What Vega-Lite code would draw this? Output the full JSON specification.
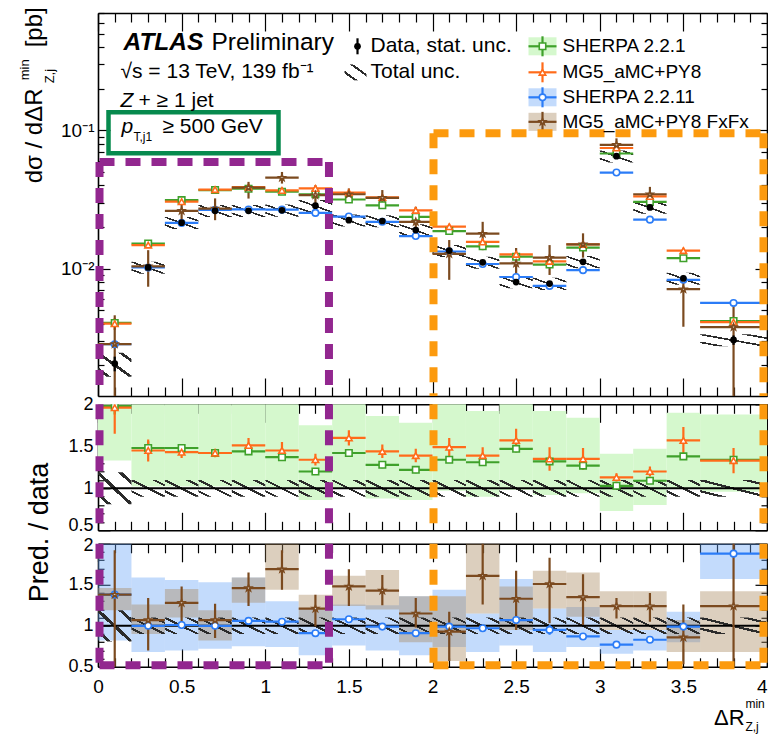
{
"$schema":"https://vega.github.io/schema/vega-lite/v6.json",
"background":"white",
"padding":{"left":18,"top":7,"right":0,"bottom":0},
"config":{"view":{"stroke":null},"font":"Liberation Sans","axis":{"grid":false,"tickColor":"black","tickWidth":1.2,"domainColor":"black","domainWidth":1.6,"labelFont":"Liberation Sans","labelFontSize":19,"labelColor":"black","zindex":1}},
"datasets":{
"axd":[{"a":1,"b":0.01,"r":1}],
"topunc":[
{"xl":0,"xh":0.2,"lo":0.00165,"hi":0.00247},{"xl":0.2,"xh":0.4,"lo":0.00918,"hi":0.01122},{"xl":0.4,"xh":0.6,"lo":0.01935,"hi":0.02365},{"xl":0.6,"xh":0.8,"lo":0.02358,"hi":0.02882},{"xl":0.8,"xh":1.0,"lo":0.02358,"hi":0.02882},{"xl":1.0,"xh":1.2,"lo":0.02376,"hi":0.02904},{"xl":1.2,"xh":1.4,"lo":0.02565,"hi":0.03135},{"xl":1.4,"xh":1.6,"lo":0.02016,"hi":0.02464},{"xl":1.6,"xh":1.8,"lo":0.01989,"hi":0.02431},{"xl":1.8,"xh":2.0,"lo":0.0171,"hi":0.0209},{"xl":2.0,"xh":2.2,"lo":0.01215,"hi":0.01485},{"xl":2.2,"xh":2.4,"lo":0.00999,"hi":0.01221},{"xl":2.4,"xh":2.6,"lo":0.0072,"hi":0.0088},{"xl":2.6,"xh":2.8,"lo":0.00702,"hi":0.00858},{"xl":2.8,"xh":3.0,"lo":0.01008,"hi":0.01232},{"xl":3.0,"xh":3.2,"lo":0.0585,"hi":0.0715},{"xl":3.2,"xh":3.4,"lo":0.02493,"hi":0.03047},{"xl":3.4,"xh":3.6,"lo":0.00765,"hi":0.00935},{"xl":3.6,"xh":4.0,"lo":0.002745,"hi":0.003355}],
"top":[
{"s":"S221","xl":0,"xh":0.2,"xc":0.1,"v":0.00405,"lo":0.00393,"hi":0.00417},
{"s":"S221","xl":0.2,"xh":0.4,"xc":0.3,"v":0.0152,"lo":0.01474,"hi":0.01566},
{"s":"S221","xl":0.4,"xh":0.6,"xc":0.5,"v":0.0313,"lo":0.03036,"hi":0.03224},
{"s":"S221","xl":0.6,"xh":0.8,"xc":0.7,"v":0.037,"lo":0.03589,"hi":0.03811},
{"s":"S221","xl":0.8,"xh":1.0,"xc":0.9,"v":0.0378,"lo":0.03667,"hi":0.03893},
{"s":"S221","xl":1.0,"xh":1.2,"xc":1.1,"v":0.036,"lo":0.03492,"hi":0.03708},
{"s":"S221","xl":1.2,"xh":1.4,"xc":1.3,"v":0.0345,"lo":0.03347,"hi":0.03554},
{"s":"S221","xl":1.4,"xh":1.6,"xc":1.5,"v":0.0316,"lo":0.03065,"hi":0.03255},
{"s":"S221","xl":1.6,"xh":1.8,"xc":1.7,"v":0.0287,"lo":0.02784,"hi":0.02956},
{"s":"S221","xl":1.8,"xh":2.0,"xc":1.9,"v":0.0237,"lo":0.02299,"hi":0.02441},
{"s":"S221","xl":2.0,"xh":2.2,"xc":2.1,"v":0.0187,"lo":0.01814,"hi":0.01926},
{"s":"S221","xl":2.2,"xh":2.4,"xc":2.3,"v":0.0145,"lo":0.01407,"hi":0.01494},
{"s":"S221","xl":2.4,"xh":2.6,"xc":2.5,"v":0.0122,"lo":0.01183,"hi":0.01257},
{"s":"S221","xl":2.6,"xh":2.8,"xc":2.7,"v":0.0107,"lo":0.01038,"hi":0.01102},
{"s":"S221","xl":2.8,"xh":3.0,"xc":2.9,"v":0.0142,"lo":0.01377,"hi":0.01463},
{"s":"S221","xl":3.0,"xh":3.2,"xc":3.1,"v":0.068,"lo":0.06596,"hi":0.07004},
{"s":"S221","xl":3.2,"xh":3.4,"xc":3.3,"v":0.0304,"lo":0.02949,"hi":0.03131},
{"s":"S221","xl":3.4,"xh":3.6,"xc":3.5,"v":0.0119,"lo":0.01154,"hi":0.01226},
{"s":"S221","xl":3.6,"xh":4.0,"xc":3.8,"v":0.00418,"lo":0.00405,"hi":0.00431},
{"s":"MG5","xl":0,"xh":0.2,"xc":0.1,"v":0.004,"lo":0.0036,"hi":0.0044},
{"s":"MG5","xl":0.2,"xh":0.4,"xc":0.3,"v":0.0148,"lo":0.01406,"hi":0.01554},
{"s":"MG5","xl":0.4,"xh":0.6,"xc":0.5,"v":0.0305,"lo":0.02898,"hi":0.03203},
{"s":"MG5","xl":0.6,"xh":0.8,"xc":0.7,"v":0.0373,"lo":0.03544,"hi":0.03917},
{"s":"MG5","xl":0.8,"xh":1.0,"xc":0.9,"v":0.0388,"lo":0.03686,"hi":0.04074},
{"s":"MG5","xl":1.0,"xh":1.2,"xc":1.1,"v":0.0368,"lo":0.03496,"hi":0.03864},
{"s":"MG5","xl":1.2,"xh":1.4,"xc":1.3,"v":0.038,"lo":0.0361,"hi":0.0399},
{"s":"MG5","xl":1.4,"xh":1.6,"xc":1.5,"v":0.0355,"lo":0.03373,"hi":0.03728},
{"s":"MG5","xl":1.6,"xh":1.8,"xc":1.7,"v":0.0327,"lo":0.03107,"hi":0.03434},
{"s":"MG5","xl":1.8,"xh":2.0,"xc":1.9,"v":0.0264,"lo":0.02508,"hi":0.02772},
{"s":"MG5","xl":2.0,"xh":2.2,"xc":2.1,"v":0.0201,"lo":0.0191,"hi":0.02111},
{"s":"MG5","xl":2.2,"xh":2.4,"xc":2.3,"v":0.0156,"lo":0.01482,"hi":0.01638},
{"s":"MG5","xl":2.4,"xh":2.6,"xc":2.5,"v":0.0127,"lo":0.01207,"hi":0.01334},
{"s":"MG5","xl":2.6,"xh":2.8,"xc":2.7,"v":0.0113,"lo":0.01074,"hi":0.01187},
{"s":"MG5","xl":2.8,"xh":3.0,"xc":2.9,"v":0.015,"lo":0.01425,"hi":0.01575},
{"s":"MG5","xl":3.0,"xh":3.2,"xc":3.1,"v":0.0745,"lo":0.07078,"hi":0.07823},
{"s":"MG5","xl":3.2,"xh":3.4,"xc":3.3,"v":0.0333,"lo":0.03164,"hi":0.03497},
{"s":"MG5","xl":3.4,"xh":3.6,"xc":3.5,"v":0.0135,"lo":0.01283,"hi":0.01418},
{"s":"MG5","xl":3.6,"xh":4.0,"xc":3.8,"v":0.0041,"lo":0.0039,"hi":0.00431},
{"s":"S2211","xl":0,"xh":0.2,"xc":0.1,"v":0.00284,"lo":0.00275,"hi":0.00293},
{"s":"S2211","xl":0.2,"xh":0.4,"xc":0.3,"v":0.0102,"lo":0.00989,"hi":0.01051},
{"s":"S2211","xl":0.4,"xh":0.6,"xc":0.5,"v":0.0214,"lo":0.02076,"hi":0.02204},
{"s":"S2211","xl":0.6,"xh":0.8,"xc":0.7,"v":0.0266,"lo":0.0258,"hi":0.0274},
{"s":"S2211","xl":0.8,"xh":1.0,"xc":0.9,"v":0.0268,"lo":0.026,"hi":0.0276},
{"s":"S2211","xl":1.0,"xh":1.2,"xc":1.1,"v":0.0267,"lo":0.0259,"hi":0.0275},
{"s":"S2211","xl":1.2,"xh":1.4,"xc":1.3,"v":0.0253,"lo":0.02454,"hi":0.02606},
{"s":"S2211","xl":1.4,"xh":1.6,"xc":1.5,"v":0.0238,"lo":0.02309,"hi":0.02451},
{"s":"S2211","xl":1.6,"xh":1.8,"xc":1.7,"v":0.0218,"lo":0.02115,"hi":0.02245},
{"s":"S2211","xl":1.8,"xh":2.0,"xc":1.9,"v":0.0172,"lo":0.01668,"hi":0.01772},
{"s":"S2211","xl":2.0,"xh":2.2,"xc":2.1,"v":0.0133,"lo":0.0129,"hi":0.0137},
{"s":"S2211","xl":2.2,"xh":2.4,"xc":2.3,"v":0.0108,"lo":0.01048,"hi":0.01112},
{"s":"S2211","xl":2.4,"xh":2.6,"xc":2.5,"v":0.0087,"lo":0.00844,"hi":0.00896},
{"s":"S2211","xl":2.6,"xh":2.8,"xc":2.7,"v":0.0075,"lo":0.00728,"hi":0.00773},
{"s":"S2211","xl":2.8,"xh":3.0,"xc":2.9,"v":0.00975,"lo":0.00946,"hi":0.01004},
{"s":"S2211","xl":3.0,"xh":3.2,"xc":3.1,"v":0.0495,"lo":0.04802,"hi":0.05099},
{"s":"S2211","xl":3.2,"xh":3.4,"xc":3.3,"v":0.0226,"lo":0.02192,"hi":0.02328},
{"s":"S2211","xl":3.4,"xh":3.6,"xc":3.5,"v":0.0083,"lo":0.00805,"hi":0.00855},
{"s":"S2211","xl":3.6,"xh":4.0,"xc":3.8,"v":0.00565,"lo":0.00548,"hi":0.00582},
{"s":"FxFx","xl":0,"xh":0.2,"xc":0.1,"v":0.00285,"lo":0.0008,"hi":0.0046},
{"s":"FxFx","xl":0.2,"xh":0.4,"xc":0.3,"v":0.0104,"lo":0.0074,"hi":0.0136},
{"s":"FxFx","xl":0.4,"xh":0.6,"xc":0.5,"v":0.0262,"lo":0.0224,"hi":0.033},
{"s":"FxFx","xl":0.6,"xh":0.8,"xc":0.7,"v":0.0272,"lo":0.0224,"hi":0.0322},
{"s":"FxFx","xl":0.8,"xh":1.0,"xc":0.9,"v":0.0385,"lo":0.0321,"hi":0.0424},
{"s":"FxFx","xl":1.0,"xh":1.2,"xc":1.1,"v":0.0455,"lo":0.0412,"hi":0.05},
{"s":"FxFx","xl":1.2,"xh":1.4,"xc":1.3,"v":0.034,"lo":0.0288,"hi":0.04},
{"s":"FxFx","xl":1.4,"xh":1.6,"xc":1.5,"v":0.0345,"lo":0.0304,"hi":0.038},
{"s":"FxFx","xl":1.6,"xh":1.8,"xc":1.7,"v":0.0325,"lo":0.0288,"hi":0.037},
{"s":"FxFx","xl":1.8,"xh":2.0,"xc":1.9,"v":0.0218,"lo":0.0174,"hi":0.028},
{"s":"FxFx","xl":2.0,"xh":2.2,"xc":2.1,"v":0.0128,"lo":0.0083,"hi":0.0161},
{"s":"FxFx","xl":2.2,"xh":2.4,"xc":2.3,"v":0.0179,"lo":0.0136,"hi":0.0218},
{"s":"FxFx","xl":2.4,"xh":2.6,"xc":2.5,"v":0.0109,"lo":0.008,"hi":0.0141},
{"s":"FxFx","xl":2.6,"xh":2.8,"xc":2.7,"v":0.012,"lo":0.009,"hi":0.0148},
{"s":"FxFx","xl":2.8,"xh":3.0,"xc":2.9,"v":0.015,"lo":0.012,"hi":0.018},
{"s":"FxFx","xl":3.0,"xh":3.2,"xc":3.1,"v":0.0785,"lo":0.066,"hi":0.0875},
{"s":"FxFx","xl":3.2,"xh":3.4,"xc":3.3,"v":0.0345,"lo":0.0296,"hi":0.039},
{"s":"FxFx","xl":3.4,"xh":3.6,"xc":3.5,"v":0.0071,"lo":0.0038,"hi":0.009},
{"s":"FxFx","xl":3.6,"xh":4.0,"xc":3.8,"v":0.00378,"lo":0.0008,"hi":0.0056},
{"s":"Data","xl":0,"xh":0.2,"xc":0.1,"v":0.00206,"lo":0.00181,"hi":0.00231},
{"s":"Data","xl":0.2,"xh":0.4,"xc":0.3,"v":0.0102,"lo":0.00979,"hi":0.01061},
{"s":"Data","xl":0.4,"xh":0.6,"xc":0.5,"v":0.0215,"lo":0.02064,"hi":0.02236},
{"s":"Data","xl":0.6,"xh":0.8,"xc":0.7,"v":0.0262,"lo":0.02515,"hi":0.02725},
{"s":"Data","xl":0.8,"xh":1.0,"xc":0.9,"v":0.0262,"lo":0.02515,"hi":0.02725},
{"s":"Data","xl":1.0,"xh":1.2,"xc":1.1,"v":0.0264,"lo":0.02534,"hi":0.02746},
{"s":"Data","xl":1.2,"xh":1.4,"xc":1.3,"v":0.0285,"lo":0.02736,"hi":0.02964},
{"s":"Data","xl":1.4,"xh":1.6,"xc":1.5,"v":0.0224,"lo":0.0215,"hi":0.0233},
{"s":"Data","xl":1.6,"xh":1.8,"xc":1.7,"v":0.0221,"lo":0.02122,"hi":0.02298},
{"s":"Data","xl":1.8,"xh":2.0,"xc":1.9,"v":0.019,"lo":0.01824,"hi":0.01976},
{"s":"Data","xl":2.0,"xh":2.2,"xc":2.1,"v":0.0135,"lo":0.01296,"hi":0.01404},
{"s":"Data","xl":2.2,"xh":2.4,"xc":2.3,"v":0.0111,"lo":0.01066,"hi":0.01154},
{"s":"Data","xl":2.4,"xh":2.6,"xc":2.5,"v":0.008,"lo":0.00768,"hi":0.00832},
{"s":"Data","xl":2.6,"xh":2.8,"xc":2.7,"v":0.0078,"lo":0.00749,"hi":0.00811},
{"s":"Data","xl":2.8,"xh":3.0,"xc":2.9,"v":0.0112,"lo":0.01075,"hi":0.01165},
{"s":"Data","xl":3.0,"xh":3.2,"xc":3.1,"v":0.065,"lo":0.0624,"hi":0.0676},
{"s":"Data","xl":3.2,"xh":3.4,"xc":3.3,"v":0.0277,"lo":0.02659,"hi":0.02881},
{"s":"Data","xl":3.4,"xh":3.6,"xc":3.5,"v":0.0085,"lo":0.00816,"hi":0.00884},
{"s":"Data","xl":3.6,"xh":4.0,"xc":3.8,"v":0.00305,"lo":0.00281,"hi":0.00329}],
"runc":[
{"xl":0,"xh":0.2,"lo":0.81,"hi":1.19},{"xl":0.2,"xh":0.4,"lo":0.9,"hi":1.1},{"xl":0.4,"xh":0.6,"lo":0.9,"hi":1.1},{"xl":0.6,"xh":0.8,"lo":0.9,"hi":1.1},{"xl":0.8,"xh":1.0,"lo":0.9,"hi":1.1},{"xl":1.0,"xh":1.2,"lo":0.9,"hi":1.1},{"xl":1.2,"xh":1.4,"lo":0.9,"hi":1.1},{"xl":1.4,"xh":1.6,"lo":0.9,"hi":1.1},{"xl":1.6,"xh":1.8,"lo":0.9,"hi":1.1},{"xl":1.8,"xh":2.0,"lo":0.9,"hi":1.1},{"xl":2.0,"xh":2.2,"lo":0.9,"hi":1.1},{"xl":2.2,"xh":2.4,"lo":0.9,"hi":1.1},{"xl":2.4,"xh":2.6,"lo":0.9,"hi":1.1},{"xl":2.6,"xh":2.8,"lo":0.9,"hi":1.1},{"xl":2.8,"xh":3.0,"lo":0.9,"hi":1.1},{"xl":3.0,"xh":3.2,"lo":0.9,"hi":1.1},{"xl":3.2,"xh":3.4,"lo":0.9,"hi":1.1},{"xl":3.4,"xh":3.6,"lo":0.9,"hi":1.1},{"xl":3.6,"xh":4.0,"lo":0.9,"hi":1.1}],
"gband":[
{"xl":0,"xh":0.2,"lo":1.33,"hi":2.2},{"xl":0.2,"xh":0.4,"lo":1.02,"hi":2.2},{"xl":0.4,"xh":0.6,"lo":1.02,"hi":2.2},{"xl":0.6,"xh":0.8,"lo":1.02,"hi":2.2},{"xl":0.8,"xh":1.0,"lo":1.02,"hi":2.2},{"xl":1.0,"xh":1.2,"lo":1.0,"hi":2.2},{"xl":1.2,"xh":1.4,"lo":0.86,"hi":1.75},{"xl":1.4,"xh":1.6,"lo":1.0,"hi":2.2},{"xl":1.6,"xh":1.8,"lo":0.88,"hi":1.86},{"xl":1.8,"xh":2.0,"lo":0.86,"hi":1.78},{"xl":2.0,"xh":2.2,"lo":0.97,"hi":2.2},{"xl":2.2,"xh":2.4,"lo":0.9,"hi":1.92},{"xl":2.4,"xh":2.6,"lo":0.98,"hi":2.2},{"xl":2.6,"xh":2.8,"lo":0.92,"hi":1.92},{"xl":2.8,"xh":3.0,"lo":0.94,"hi":1.84},{"xl":3.0,"xh":3.2,"lo":0.73,"hi":1.41},{"xl":3.2,"xh":3.4,"lo":0.8,"hi":1.47},{"xl":3.4,"xh":3.6,"lo":1.0,"hi":1.9},{"xl":3.6,"xh":4.0,"lo":0.96,"hi":1.88}],
"mid":[
{"s":"S221","xl":0,"xh":0.2,"xc":0.1,"r":1.98,"lo":1.88,"hi":2.08},
{"s":"S221","xl":0.2,"xh":0.4,"xc":0.3,"r":1.48,"lo":1.4,"hi":1.56},
{"s":"S221","xl":0.4,"xh":0.6,"xc":0.5,"r":1.48,"lo":1.44,"hi":1.52},
{"s":"S221","xl":0.6,"xh":0.8,"xc":0.7,"r":1.42,"lo":1.38,"hi":1.46},
{"s":"S221","xl":0.8,"xh":1.0,"xc":0.9,"r":1.44,"lo":1.4,"hi":1.48},
{"s":"S221","xl":1.0,"xh":1.2,"xc":1.1,"r":1.37,"lo":1.33,"hi":1.41},
{"s":"S221","xl":1.2,"xh":1.4,"xc":1.3,"r":1.2,"lo":1.16,"hi":1.24},
{"s":"S221","xl":1.4,"xh":1.6,"xc":1.5,"r":1.42,"lo":1.38,"hi":1.46},
{"s":"S221","xl":1.6,"xh":1.8,"xc":1.7,"r":1.28,"lo":1.24,"hi":1.32},
{"s":"S221","xl":1.8,"xh":2.0,"xc":1.9,"r":1.22,"lo":1.18,"hi":1.26},
{"s":"S221","xl":2.0,"xh":2.2,"xc":2.1,"r":1.34,"lo":1.3,"hi":1.38},
{"s":"S221","xl":2.2,"xh":2.4,"xc":2.3,"r":1.31,"lo":1.27,"hi":1.35},
{"s":"S221","xl":2.4,"xh":2.6,"xc":2.5,"r":1.47,"lo":1.43,"hi":1.51},
{"s":"S221","xl":2.6,"xh":2.8,"xc":2.7,"r":1.32,"lo":1.28,"hi":1.36},
{"s":"S221","xl":2.8,"xh":3.0,"xc":2.9,"r":1.27,"lo":1.23,"hi":1.31},
{"s":"S221","xl":3.0,"xh":3.2,"xc":3.1,"r":1.03,"lo":0.99,"hi":1.07},
{"s":"S221","xl":3.2,"xh":3.4,"xc":3.3,"r":1.09,"lo":1.05,"hi":1.13},
{"s":"S221","xl":3.4,"xh":3.6,"xc":3.5,"r":1.38,"lo":1.34,"hi":1.42},
{"s":"S221","xl":3.6,"xh":4.0,"xc":3.8,"r":1.34,"lo":1.3,"hi":1.38},
{"s":"MG5","xl":0,"xh":0.2,"xc":0.1,"r":1.96,"lo":1.65,"hi":2.3},
{"s":"MG5","xl":0.2,"xh":0.4,"xc":0.3,"r":1.45,"lo":1.32,"hi":1.58},
{"s":"MG5","xl":0.4,"xh":0.6,"xc":0.5,"r":1.43,"lo":1.36,"hi":1.5},
{"s":"MG5","xl":0.6,"xh":0.8,"xc":0.7,"r":1.42,"lo":1.37,"hi":1.47},
{"s":"MG5","xl":0.8,"xh":1.0,"xc":0.9,"r":1.51,"lo":1.42,"hi":1.6},
{"s":"MG5","xl":1.0,"xh":1.2,"xc":1.1,"r":1.45,"lo":1.35,"hi":1.55},
{"s":"MG5","xl":1.2,"xh":1.4,"xc":1.3,"r":1.34,"lo":1.27,"hi":1.41},
{"s":"MG5","xl":1.4,"xh":1.6,"xc":1.5,"r":1.6,"lo":1.51,"hi":1.69},
{"s":"MG5","xl":1.6,"xh":1.8,"xc":1.7,"r":1.44,"lo":1.36,"hi":1.52},
{"s":"MG5","xl":1.8,"xh":2.0,"xc":1.9,"r":1.39,"lo":1.31,"hi":1.47},
{"s":"MG5","xl":2.0,"xh":2.2,"xc":2.1,"r":1.49,"lo":1.38,"hi":1.6},
{"s":"MG5","xl":2.2,"xh":2.4,"xc":2.3,"r":1.39,"lo":1.29,"hi":1.49},
{"s":"MG5","xl":2.4,"xh":2.6,"xc":2.5,"r":1.57,"lo":1.43,"hi":1.71},
{"s":"MG5","xl":2.6,"xh":2.8,"xc":2.7,"r":1.35,"lo":1.21,"hi":1.49},
{"s":"MG5","xl":2.8,"xh":3.0,"xc":2.9,"r":1.35,"lo":1.22,"hi":1.48},
{"s":"MG5","xl":3.0,"xh":3.2,"xc":3.1,"r":1.13,"lo":1.08,"hi":1.18},
{"s":"MG5","xl":3.2,"xh":3.4,"xc":3.3,"r":1.2,"lo":1.14,"hi":1.26},
{"s":"MG5","xl":3.4,"xh":3.6,"xc":3.5,"r":1.57,"lo":1.41,"hi":1.73},
{"s":"MG5","xl":3.6,"xh":4.0,"xc":3.8,"r":1.33,"lo":1.18,"hi":1.48}],
"bband":[
{"s":"S2211","xl":0,"xh":0.2,"lo":0.82,"hi":2.2},{"s":"S2211","xl":0.2,"xh":0.4,"lo":0.68,"hi":1.59},{"s":"S2211","xl":0.4,"xh":0.6,"lo":0.7,"hi":1.56},{"s":"S2211","xl":0.6,"xh":0.8,"lo":0.72,"hi":1.53},{"s":"S2211","xl":0.8,"xh":1.0,"lo":0.75,"hi":1.59},{"s":"S2211","xl":1.0,"xh":1.2,"lo":0.74,"hi":1.3},{"s":"S2211","xl":1.2,"xh":1.4,"lo":0.64,"hi":1.21},{"s":"S2211","xl":1.4,"xh":1.6,"lo":0.76,"hi":1.26},{"s":"S2211","xl":1.6,"xh":1.8,"lo":0.7,"hi":1.25},{"s":"S2211","xl":1.8,"xh":2.0,"lo":0.64,"hi":1.36},{"s":"S2211","xl":2.0,"xh":2.2,"lo":0.74,"hi":1.44},{"s":"S2211","xl":2.2,"xh":2.4,"lo":0.68,"hi":1.15},{"s":"S2211","xl":2.4,"xh":2.6,"lo":0.76,"hi":1.57},{"s":"S2211","xl":2.6,"xh":2.8,"lo":0.68,"hi":1.21},{"s":"S2211","xl":2.8,"xh":3.0,"lo":0.74,"hi":1.23},{"s":"S2211","xl":3.0,"xh":3.2,"lo":0.66,"hi":0.95},{"s":"S2211","xl":3.2,"xh":3.4,"lo":0.7,"hi":0.95},{"s":"S2211","xl":3.4,"xh":3.6,"lo":0.8,"hi":1.17},{"s":"S2211","xl":3.6,"xh":4.0,"lo":1.57,"hi":2.2},
{"s":"FxFx","xl":0,"xh":0.2,"lo":1.19,"hi":1.46},{"s":"FxFx","xl":0.2,"xh":0.4,"lo":0.9,"hi":1.26},{"s":"FxFx","xl":0.4,"xh":0.6,"lo":1.1,"hi":1.45},{"s":"FxFx","xl":0.6,"xh":0.8,"lo":0.82,"hi":1.19},{"s":"FxFx","xl":0.8,"xh":1.0,"lo":1.28,"hi":1.59},{"s":"FxFx","xl":1.0,"xh":1.2,"lo":1.44,"hi":2.2},{"s":"FxFx","xl":1.2,"xh":1.4,"lo":1.0,"hi":1.38},{"s":"FxFx","xl":1.4,"xh":1.6,"lo":1.24,"hi":1.61},{"s":"FxFx","xl":1.6,"xh":1.8,"lo":1.2,"hi":1.68},{"s":"FxFx","xl":1.8,"xh":2.0,"lo":0.8,"hi":1.36},{"s":"FxFx","xl":2.0,"xh":2.2,"lo":0.57,"hi":1.36},{"s":"FxFx","xl":2.2,"xh":2.4,"lo":1.15,"hi":2.2},{"s":"FxFx","xl":2.4,"xh":2.6,"lo":0.95,"hi":1.48},{"s":"FxFx","xl":2.6,"xh":2.8,"lo":1.21,"hi":1.67},{"s":"FxFx","xl":2.8,"xh":3.0,"lo":1.11,"hi":1.65},{"s":"FxFx","xl":3.0,"xh":3.2,"lo":0.95,"hi":1.42},{"s":"FxFx","xl":3.2,"xh":3.4,"lo":0.95,"hi":1.42},{"s":"FxFx","xl":3.4,"xh":3.6,"lo":0.68,"hi":1.07},{"s":"FxFx","xl":3.6,"xh":4.0,"lo":0.68,"hi":1.42}],
"bot":[
{"s":"S2211","xl":0,"xh":0.2,"xc":0.1,"r":1.38,"lo":1.34,"hi":1.42},
{"s":"S2211","xl":0.2,"xh":0.4,"xc":0.3,"r":1.0,"lo":0.96,"hi":1.04},
{"s":"S2211","xl":0.4,"xh":0.6,"xc":0.5,"r":1.01,"lo":0.97,"hi":1.05},
{"s":"S2211","xl":0.6,"xh":0.8,"xc":0.7,"r":1.0,"lo":0.96,"hi":1.04},
{"s":"S2211","xl":0.8,"xh":1.0,"xc":0.9,"r":1.06,"lo":1.02,"hi":1.1},
{"s":"S2211","xl":1.0,"xh":1.2,"xc":1.1,"r":1.05,"lo":1.01,"hi":1.09},
{"s":"S2211","xl":1.2,"xh":1.4,"xc":1.3,"r":0.91,"lo":0.87,"hi":0.95},
{"s":"S2211","xl":1.4,"xh":1.6,"xc":1.5,"r":1.08,"lo":1.04,"hi":1.12},
{"s":"S2211","xl":1.6,"xh":1.8,"xc":1.7,"r":0.99,"lo":0.95,"hi":1.03},
{"s":"S2211","xl":1.8,"xh":2.0,"xc":1.9,"r":0.91,"lo":0.87,"hi":0.95},
{"s":"S2211","xl":2.0,"xh":2.2,"xc":2.1,"r":0.99,"lo":0.95,"hi":1.03},
{"s":"S2211","xl":2.2,"xh":2.4,"xc":2.3,"r":0.97,"lo":0.93,"hi":1.01},
{"s":"S2211","xl":2.4,"xh":2.6,"xc":2.5,"r":1.07,"lo":1.03,"hi":1.11},
{"s":"S2211","xl":2.6,"xh":2.8,"xc":2.7,"r":0.95,"lo":0.89,"hi":1.01},
{"s":"S2211","xl":2.8,"xh":3.0,"xc":2.9,"r":0.87,"lo":0.83,"hi":0.91},
{"s":"S2211","xl":3.0,"xh":3.2,"xc":3.1,"r":0.77,"lo":0.74,"hi":0.8},
{"s":"S2211","xl":3.2,"xh":3.4,"xc":3.3,"r":0.83,"lo":0.8,"hi":0.86},
{"s":"S2211","xl":3.4,"xh":3.6,"xc":3.5,"r":0.99,"lo":0.95,"hi":1.03},
{"s":"S2211","xl":3.6,"xh":4.0,"xc":3.8,"r":1.88,"lo":1.84,"hi":1.92},
{"s":"FxFx","xl":0,"xh":0.2,"xc":0.1,"r":1.38,"lo":0.3,"hi":1.92},
{"s":"FxFx","xl":0.2,"xh":0.4,"xc":0.3,"r":1.07,"lo":0.7,"hi":1.34},
{"s":"FxFx","xl":0.4,"xh":0.6,"xc":0.5,"r":1.28,"lo":1.04,"hi":1.48},
{"s":"FxFx","xl":0.6,"xh":0.8,"xc":0.7,"r":1.07,"lo":0.85,"hi":1.27},
{"s":"FxFx","xl":0.8,"xh":1.0,"xc":0.9,"r":1.46,"lo":1.24,"hi":1.65},
{"s":"FxFx","xl":1.0,"xh":1.2,"xc":1.1,"r":1.69,"lo":1.44,"hi":1.92},
{"s":"FxFx","xl":1.2,"xh":1.4,"xc":1.3,"r":1.21,"lo":0.99,"hi":1.38},
{"s":"FxFx","xl":1.4,"xh":1.6,"xc":1.5,"r":1.48,"lo":1.24,"hi":1.69},
{"s":"FxFx","xl":1.6,"xh":1.8,"xc":1.7,"r":1.43,"lo":1.25,"hi":1.62},
{"s":"FxFx","xl":1.8,"xh":2.0,"xc":1.9,"r":1.15,"lo":0.98,"hi":1.34},
{"s":"FxFx","xl":2.0,"xh":2.2,"xc":2.1,"r":0.93,"lo":0.57,"hi":1.17},
{"s":"FxFx","xl":2.2,"xh":2.4,"xc":2.3,"r":1.61,"lo":1.26,"hi":2.1},
{"s":"FxFx","xl":2.4,"xh":2.6,"xc":2.5,"r":1.33,"lo":0.95,"hi":1.67},
{"s":"FxFx","xl":2.6,"xh":2.8,"xc":2.7,"r":1.51,"lo":1.03,"hi":1.83},
{"s":"FxFx","xl":2.8,"xh":3.0,"xc":2.9,"r":1.35,"lo":1.01,"hi":1.63},
{"s":"FxFx","xl":3.0,"xh":3.2,"xc":3.1,"r":1.24,"lo":1.09,"hi":1.34},
{"s":"FxFx","xl":3.2,"xh":3.4,"xc":3.3,"r":1.24,"lo":1.05,"hi":1.4},
{"s":"FxFx","xl":3.4,"xh":3.6,"xc":3.5,"r":0.86,"lo":0.53,"hi":1.26},
{"s":"FxFx","xl":3.6,"xh":4.0,"xc":3.8,"r":1.24,"lo":0.3,"hi":2.2}],
"boxTop":[
{"b":"P","x":0.009,"x2":1.381,"y":0.059,"y2":0.059},{"b":"P","x":0.009,"x2":0.009,"y":0.059,"y2":0.0012},{"b":"P","x":1.381,"x2":1.381,"y":0.059,"y2":0.0012},
{"b":"O","x":2.006,"x2":3.979,"y":0.0951,"y2":0.0951},{"b":"O","x":2.006,"x2":2.006,"y":0.0951,"y2":0.0012},{"b":"O","x":3.979,"x2":3.979,"y":0.0951,"y2":0.0012}],
"boxMid":[
{"b":"P","x":0.009,"x2":0.009,"y":2,"y2":0.5},{"b":"P","x":1.381,"x2":1.381,"y":2,"y2":0.5},{"b":"O","x":2.006,"x2":2.006,"y":2,"y2":0.5},{"b":"O","x":3.979,"x2":3.979,"y":2,"y2":0.5}],
"boxBot":[
{"b":"P","x":0.009,"x2":0.009,"y":2,"y2":0.518},{"b":"P","x":1.381,"x2":1.381,"y":2,"y2":0.518},{"b":"P","x":0.009,"x2":1.381,"y":0.518,"y2":0.518},
{"b":"O","x":2.006,"x2":2.006,"y":2,"y2":0.518},{"b":"O","x":3.979,"x2":3.979,"y":2,"y2":0.518},{"b":"O","x":2.006,"x2":3.979,"y":0.518,"y2":0.518}],
"gbox":[{"xl":0.0628,"xh":1.0792,"lo":0.0682,"hi":0.1349}],
"annTop":[
{"k":"atlas","t":"ATLAS","x":0.1525,"y":0.4256},
{"k":"pre","t":"Preliminary","x":0.6786,"y":0.4256},
{"k":"n21","t":"√s = 13 TeV, 139 fb⁻¹","x":0.1345,"y":0.2626},
{"k":"i21","t":"Z","x":0.1345,"y":0.1621},
{"k":"n21","t":"+ ≥ 1 jet","x":0.2422,"y":0.1621},
{"k":"i21","t":"p","x":0.1405,"y":0.1051},
{"k":"s12","t":"T,j1","x":0.2123,"y":0.089},
{"k":"n21","t":"≥ 500 GeV","x":0.3857,"y":0.1051},
{"k":"n21","t":"Data, stat. unc.","x":1.6293,"y":0.405},
{"k":"n21","t":"Total unc.","x":1.6293,"y":0.2626},
{"k":"l19","t":"SHERPA 2.2.1","x":2.777,"y":0.405},
{"k":"l19","t":"MG5_aMC+PY8","x":2.777,"y":0.2626},
{"k":"l19","t":"SHERPA 2.2.11","x":2.777,"y":0.1732},
{"k":"l19","t":"MG5_aMC+PY8 FxFx","x":2.777,"y":0.1152},
{"k":"yt","t":"dσ / dΔR","x":-0.3378,"y":0.04138},
{"k":"yt","t":"[pb]","x":-0.3378,"y":0.3982},
{"k":"ys","t":"min","x":-0.4155,"y":0.2298},
{"k":"ys","t":"Z,j","x":-0.266,"y":0.2186}],
"legTop":[
{"s":"S221","xl":2.574,"xh":2.7414,"xc":2.6577,"v":0.405,"lo":0.3429,"hi":0.4783,"bl":0.3485,"bh":0.4706},
{"s":"MG5","xl":2.574,"xh":2.7414,"xc":2.6577,"v":0.2626,"lo":0.2224,"hi":0.3101,"bl":0.2626,"bh":0.2626},
{"s":"S2211","xl":2.574,"xh":2.7414,"xc":2.6577,"v":0.1732,"lo":0.1467,"hi":0.2046,"bl":0.1491,"bh":0.2013},
{"s":"FxFx","xl":2.574,"xh":2.7414,"xc":2.6577,"v":0.1152,"lo":0.0975,"hi":0.136,"bl":0.0991,"bh":0.1339}],
"legData":[{"xc":1.5516,"v":0.405,"lo":0.3545,"hi":0.4627}],
"legUnc":[{"xl":1.4737,"xh":1.6053,"lo":0.2298,"hi":0.2998}],
"annMid":[{"t":"Pred. / data","x":-0.296,"y":-0.357}],
"annBot":[{"k":"big","t":"ΔR","x":3.866,"y":-0.213},{"k":"sm","t":"min","x":3.871,"y":-0.006},{"k":"sm","t":"Z,j","x":3.871,"y":-0.287}]
},
"spacing":8.3,
"bounds":"flush",
"resolve":{"scale":{"x":"independent","y":"independent","color":"independent","fill":"independent","stroke":"independent","shape":"independent"}},
"vconcat":[
{"width":669,"height":383,
"resolve":{"axis":{"x":"independent","y":"independent"}},
"layer":[
{"data":{"name":"topunc"},"mark":{"type":"rect","clip":true,"fill":{"gradient":"linear","x1":0,"y1":1,"x2":1,"y2":0,"stops":[{"offset":0,"color":"transparent"},{"offset":0.13,"color":"transparent"},{"offset":0.13,"color":"#2b2b2b"},{"offset":0.2,"color":"#2b2b2b"},{"offset":0.2,"color":"transparent"},{"offset":0.46,"color":"transparent"},{"offset":0.46,"color":"#2b2b2b"},{"offset":0.53,"color":"#2b2b2b"},{"offset":0.53,"color":"transparent"},{"offset":0.8,"color":"transparent"},{"offset":0.8,"color":"#2b2b2b"},{"offset":0.87,"color":"#2b2b2b"},{"offset":0.87,"color":"transparent"},{"offset":1,"color":"transparent"}]}},
 "encoding":{"x":{"field":"xl","type":"quantitative","scale":{"domain":[0,4],"nice":false,"zero":false},"axis":null},"x2":{"field":"xh"},"y":{"field":"lo","type":"quantitative","scale":{"type":"log","domain":[0.0012,0.705],"nice":false},"axis":null},"y2":{"field":"hi"}}},
{"data":{"name":"top"},"transform":[{"filter":"datum.s != 'Data'"}],"mark":{"type":"rule","strokeWidth":2.2,"clip":true},
 "encoding":{"x":{"field":"xl","type":"quantitative","scale":{"domain":[0,4],"nice":false,"zero":false},"axis":null},"x2":{"field":"xh"},"y":{"field":"v","type":"quantitative","scale":{"type":"log","domain":[0.0012,0.705],"nice":false},"axis":null},"stroke":{"field":"s","type":"nominal","scale":{"domain":["S221","MG5","S2211","FxFx","Data"],"range":["#3fa12b","#ff6b1a","#2b7cf7","#7b4a1f","#000000"]},"legend":null}}},
{"data":{"name":"top"},"mark":{"type":"rule","strokeWidth":2.2,"clip":true},
 "encoding":{"x":{"field":"xc","type":"quantitative","scale":{"domain":[0,4],"nice":false,"zero":false},"axis":null},"y":{"field":"lo","type":"quantitative","scale":{"type":"log","domain":[0.0012,0.705],"nice":false},"axis":null},"y2":{"field":"hi"},"stroke":{"field":"s","type":"nominal","scale":{"domain":["S221","MG5","S2211","FxFx","Data"],"range":["#3fa12b","#ff6b1a","#2b7cf7","#7b4a1f","#000000"]},"legend":null}}},
{"data":{"name":"top"},"transform":[{"filter":"datum.s != 'Data'"}],"mark":{"type":"point","filled":true,"fill":"white","strokeWidth":1.6,"size":42,"opacity":1},
 "encoding":{"x":{"field":"xc","type":"quantitative","scale":{"domain":[0,4],"nice":false,"zero":false},"axis":null},"y":{"field":"v","type":"quantitative","scale":{"type":"log","domain":[0.0012,0.705],"nice":false},"axis":null},"stroke":{"field":"s","type":"nominal","scale":{"domain":["S221","MG5","S2211","FxFx","Data"],"range":["#3fa12b","#ff6b1a","#2b7cf7","#7b4a1f","#000000"]},"legend":null},"shape":{"field":"s","type":"nominal","scale":{"domain":["S221","MG5","S2211","FxFx"],"range":["square","triangle-up","circle","M0,-1L0.24,-0.33L0.95,-0.31L0.38,0.12L0.59,0.81L0,0.4L-0.59,0.81L-0.38,0.12L-0.95,-0.31L-0.24,-0.33Z"]},"legend":null}}},
{"data":{"name":"top"},"transform":[{"filter":"datum.s == 'Data'"}],"mark":{"type":"point","filled":true,"color":"black","shape":"circle","size":45,"opacity":1},
 "encoding":{"x":{"field":"xc","type":"quantitative","scale":{"domain":[0,4],"nice":false,"zero":false},"axis":null},"y":{"field":"v","type":"quantitative","scale":{"type":"log","domain":[0.0012,0.705],"nice":false},"axis":null}}},
{"data":{"name":"gbox"},"mark":{"type":"rect","filled":false,"color":"#078a4e","strokeWidth":4.5},
 "encoding":{"x":{"field":"xl","type":"quantitative","scale":{"domain":[0,4],"nice":false,"zero":false},"axis":null},"x2":{"field":"xh"},"y":{"field":"lo","type":"quantitative","scale":{"type":"log","domain":[0.0012,0.705],"nice":false},"axis":null},"y2":{"field":"hi"}}},
{"data":{"name":"legTop"},"transform":[{"filter":"datum.s != 'MG5'"}],"mark":{"type":"rect"},
 "encoding":{"x":{"field":"xl","type":"quantitative","scale":{"domain":[0,4],"nice":false,"zero":false},"axis":null},"x2":{"field":"xh"},"y":{"field":"bl","type":"quantitative","scale":{"type":"log","domain":[0.0012,0.705],"nice":false},"axis":null},"y2":{"field":"bh"},"fill":{"field":"s","type":"nominal","scale":{"domain":["S221","S2211","FxFx"],"range":["#d5f8cd","#c3dbfc","#dccfbe"]},"legend":null}}},
{"data":{"name":"legUnc"},"mark":{"type":"rect","fill":{"gradient":"linear","x1":0,"y1":1,"x2":1,"y2":0,"stops":[{"offset":0,"color":"transparent"},{"offset":0.22,"color":"transparent"},{"offset":0.22,"color":"#2b2b2b"},{"offset":0.3,"color":"#2b2b2b"},{"offset":0.3,"color":"transparent"},{"offset":0.62,"color":"transparent"},{"offset":0.62,"color":"#2b2b2b"},{"offset":0.7,"color":"#2b2b2b"},{"offset":0.7,"color":"transparent"},{"offset":1,"color":"transparent"}]}},
 "encoding":{"x":{"field":"xl","type":"quantitative","scale":{"domain":[0,4],"nice":false,"zero":false},"axis":null},"x2":{"field":"xh"},"y":{"field":"lo","type":"quantitative","scale":{"type":"log","domain":[0.0012,0.705],"nice":false},"axis":null},"y2":{"field":"hi"}}},
{"data":{"name":"legTop"},"mark":{"type":"rule","strokeWidth":2.2},
 "encoding":{"x":{"field":"xl","type":"quantitative","scale":{"domain":[0,4],"nice":false,"zero":false},"axis":null},"x2":{"field":"xh"},"y":{"field":"v","type":"quantitative","scale":{"type":"log","domain":[0.0012,0.705],"nice":false},"axis":null},"stroke":{"field":"s","type":"nominal","scale":{"domain":["S221","MG5","S2211","FxFx","Data"],"range":["#3fa12b","#ff6b1a","#2b7cf7","#7b4a1f","#000000"]},"legend":null}}},
{"data":{"name":"legTop"},"mark":{"type":"rule","strokeWidth":2.2},
 "encoding":{"x":{"field":"xc","type":"quantitative","scale":{"domain":[0,4],"nice":false,"zero":false},"axis":null},"y":{"field":"lo","type":"quantitative","scale":{"type":"log","domain":[0.0012,0.705],"nice":false},"axis":null},"y2":{"field":"hi"},"stroke":{"field":"s","type":"nominal","scale":{"domain":["S221","MG5","S2211","FxFx","Data"],"range":["#3fa12b","#ff6b1a","#2b7cf7","#7b4a1f","#000000"]},"legend":null}}},
{"data":{"name":"legTop"},"mark":{"type":"point","filled":true,"fill":"white","strokeWidth":1.6,"size":42,"opacity":1},
 "encoding":{"x":{"field":"xc","type":"quantitative","scale":{"domain":[0,4],"nice":false,"zero":false},"axis":null},"y":{"field":"v","type":"quantitative","scale":{"type":"log","domain":[0.0012,0.705],"nice":false},"axis":null},"stroke":{"field":"s","type":"nominal","scale":{"domain":["S221","MG5","S2211","FxFx","Data"],"range":["#3fa12b","#ff6b1a","#2b7cf7","#7b4a1f","#000000"]},"legend":null},"shape":{"field":"s","type":"nominal","scale":{"domain":["S221","MG5","S2211","FxFx"],"range":["square","triangle-up","circle","M0,-1L0.24,-0.33L0.95,-0.31L0.38,0.12L0.59,0.81L0,0.4L-0.59,0.81L-0.38,0.12L-0.95,-0.31L-0.24,-0.33Z"]},"legend":null}}},
{"data":{"name":"legData"},"mark":{"type":"rule","strokeWidth":2.2,"color":"black"},
 "encoding":{"x":{"field":"xc","type":"quantitative","scale":{"domain":[0,4],"nice":false,"zero":false},"axis":null},"y":{"field":"lo","type":"quantitative","scale":{"type":"log","domain":[0.0012,0.705],"nice":false},"axis":null},"y2":{"field":"hi"}}},
{"data":{"name":"legData"},"mark":{"type":"point","filled":true,"color":"black","shape":"circle","size":45,"opacity":1},
 "encoding":{"x":{"field":"xc","type":"quantitative","scale":{"domain":[0,4],"nice":false,"zero":false},"axis":null},"y":{"field":"v","type":"quantitative","scale":{"type":"log","domain":[0.0012,0.705],"nice":false},"axis":null}}},
{"data":{"name":"boxTop"},"mark":{"type":"rule","strokeWidth":8,"strokeDash":[15,11],"strokeCap":"butt"},
 "encoding":{"x":{"field":"x","type":"quantitative","scale":{"domain":[0,4],"nice":false,"zero":false},"axis":null},"x2":{"field":"x2"},"y":{"field":"y","type":"quantitative","scale":{"type":"log","domain":[0.0012,0.705],"nice":false},"axis":null},"y2":{"field":"y2"},"color":{"field":"b","type":"nominal","scale":{"domain":["P","O"],"range":["#92278f","#fc9a0e"]},"legend":null}}},
{"data":{"name":"annTop"},"transform":[{"filter":"datum.k == 'atlas'"}],"mark":{"type":"text","font":"Liberation Sans","fontSize":24.5,"fontWeight":"bold","fontStyle":"italic","align":"left","baseline":"middle","color":"black"},
 "encoding":{"text":{"field":"t"},"x":{"field":"x","type":"quantitative","scale":{"domain":[0,4],"nice":false,"zero":false},"axis":null},"y":{"field":"y","type":"quantitative","scale":{"type":"log","domain":[0.0012,0.705],"nice":false},"axis":null}}},
{"data":{"name":"annTop"},"transform":[{"filter":"datum.k == 'pre'"}],"mark":{"type":"text","font":"Liberation Sans","fontSize":24.5,"align":"left","baseline":"middle","color":"black"},
 "encoding":{"text":{"field":"t"},"x":{"field":"x","type":"quantitative","scale":{"domain":[0,4],"nice":false,"zero":false},"axis":null},"y":{"field":"y","type":"quantitative","scale":{"type":"log","domain":[0.0012,0.705],"nice":false},"axis":null}}},
{"data":{"name":"annTop"},"transform":[{"filter":"datum.k == 'n21'"}],"mark":{"type":"text","font":"Liberation Sans","fontSize":21,"align":"left","baseline":"middle","color":"black"},
 "encoding":{"text":{"field":"t"},"x":{"field":"x","type":"quantitative","scale":{"domain":[0,4],"nice":false,"zero":false},"axis":null},"y":{"field":"y","type":"quantitative","scale":{"type":"log","domain":[0.0012,0.705],"nice":false},"axis":null}}},
{"data":{"name":"annTop"},"transform":[{"filter":"datum.k == 'i21'"}],"mark":{"type":"text","font":"Liberation Sans","fontSize":21,"fontStyle":"italic","align":"left","baseline":"middle","color":"black"},
 "encoding":{"text":{"field":"t"},"x":{"field":"x","type":"quantitative","scale":{"domain":[0,4],"nice":false,"zero":false},"axis":null},"y":{"field":"y","type":"quantitative","scale":{"type":"log","domain":[0.0012,0.705],"nice":false},"axis":null}}},
{"data":{"name":"annTop"},"transform":[{"filter":"datum.k == 's12'"}],"mark":{"type":"text","font":"Liberation Sans","fontSize":12,"align":"left","baseline":"middle","color":"black"},
 "encoding":{"text":{"field":"t"},"x":{"field":"x","type":"quantitative","scale":{"domain":[0,4],"nice":false,"zero":false},"axis":null},"y":{"field":"y","type":"quantitative","scale":{"type":"log","domain":[0.0012,0.705],"nice":false},"axis":null}}},
{"data":{"name":"annTop"},"transform":[{"filter":"datum.k == 'l19'"}],"mark":{"type":"text","font":"Liberation Sans","fontSize":19,"align":"left","baseline":"middle","color":"black"},
 "encoding":{"text":{"field":"t"},"x":{"field":"x","type":"quantitative","scale":{"domain":[0,4],"nice":false,"zero":false},"axis":null},"y":{"field":"y","type":"quantitative","scale":{"type":"log","domain":[0.0012,0.705],"nice":false},"axis":null}}},
{"data":{"name":"annTop"},"transform":[{"filter":"datum.k == 'yt'"}],"mark":{"type":"text","font":"Liberation Sans","fontSize":24,"angle":270,"align":"left","baseline":"alphabetic","color":"black"},
 "encoding":{"text":{"field":"t"},"x":{"field":"x","type":"quantitative","scale":{"domain":[0,4],"nice":false,"zero":false},"axis":null},"y":{"field":"y","type":"quantitative","scale":{"type":"log","domain":[0.0012,0.705],"nice":false},"axis":null}}},
{"data":{"name":"annTop"},"transform":[{"filter":"datum.k == 'ys'"}],"mark":{"type":"text","font":"Liberation Sans","fontSize":13,"angle":270,"align":"left","baseline":"alphabetic","color":"black"},
 "encoding":{"text":{"field":"t"},"x":{"field":"x","type":"quantitative","scale":{"domain":[0,4],"nice":false,"zero":false},"axis":null},"y":{"field":"y","type":"quantitative","scale":{"type":"log","domain":[0.0012,0.705],"nice":false},"axis":null}}},
{"data":{"name":"axd"},"mark":{"type":"point","opacity":0},
 "encoding":{"x":{"field":"a","type":"quantitative","scale":{"domain":[0,4],"nice":false,"zero":false},"axis":null},"y":{"field":"b","type":"quantitative","scale":{"type":"log","domain":[0.0012,0.705],"nice":false},"axis":{"orient":"left","values":[0.01,0.1],"labelExpr":"datum.value < 0.05 ? '10⁻²' : '10⁻¹'","ticks":false,"domain":false,"title":null,"labelPadding":4}}}},
{"data":{"name":"axd"},"mark":{"type":"point","opacity":0},
 "encoding":{"x":{"field":"a","type":"quantitative","scale":{"domain":[0,4],"nice":false,"zero":false},"axis":{"orient":"bottom","values":[0,0.5,1,1.5,2,2.5,3,3.5,4],"labels":false,"tickSize":-18,"title":null}},"y":{"field":"b","type":"quantitative","scale":{"type":"log","domain":[0.0012,0.705],"nice":false},"axis":{"orient":"left","values":[0.01,0.1],"labels":false,"tickSize":-12,"title":null}}}},
{"data":{"name":"axd"},"mark":{"type":"point","opacity":0},
 "encoding":{"x":{"field":"a","type":"quantitative","scale":{"domain":[0,4],"nice":false,"zero":false},"axis":{"orient":"bottom","values":[0.1,0.2,0.3,0.4,0.6,0.7,0.8,0.9,1.1,1.2,1.3,1.4,1.6,1.7,1.8,1.9,2.1,2.2,2.3,2.4,2.6,2.7,2.8,2.9,3.1,3.2,3.3,3.4,3.6,3.7,3.8,3.9],"labels":false,"domain":false,"tickSize":-9,"title":null}},"y":{"field":"b","type":"quantitative","scale":{"type":"log","domain":[0.0012,0.705],"nice":false},"axis":{"orient":"left","values":[0.002,0.003,0.004,0.005,0.006,0.007,0.008,0.009,0.02,0.03,0.04,0.05,0.06,0.07,0.08,0.09,0.2,0.3,0.4,0.5,0.6,0.7],"labels":false,"domain":false,"tickSize":-6,"title":null}}}},
{"data":{"name":"axd"},"mark":{"type":"point","opacity":0},
 "encoding":{"x":{"field":"a","type":"quantitative","scale":{"domain":[0,4],"nice":false,"zero":false},"axis":{"orient":"top","values":[0,0.5,1,1.5,2,2.5,3,3.5,4],"labels":false,"tickSize":-18,"title":null}},"y":{"field":"b","type":"quantitative","scale":{"type":"log","domain":[0.0012,0.705],"nice":false},"axis":{"orient":"right","values":[0.01,0.1],"labels":false,"tickSize":-12,"title":null}}}},
{"data":{"name":"axd"},"mark":{"type":"point","opacity":0},
 "encoding":{"x":{"field":"a","type":"quantitative","scale":{"domain":[0,4],"nice":false,"zero":false},"axis":{"orient":"top","values":[0.1,0.2,0.3,0.4,0.6,0.7,0.8,0.9,1.1,1.2,1.3,1.4,1.6,1.7,1.8,1.9,2.1,2.2,2.3,2.4,2.6,2.7,2.8,2.9,3.1,3.2,3.3,3.4,3.6,3.7,3.8,3.9],"labels":false,"domain":false,"tickSize":-9,"title":null}},"y":{"field":"b","type":"quantitative","scale":{"type":"log","domain":[0.0012,0.705],"nice":false},"axis":{"orient":"right","values":[0.002,0.003,0.004,0.005,0.006,0.007,0.008,0.009,0.02,0.03,0.04,0.05,0.06,0.07,0.08,0.09,0.2,0.3,0.4,0.5,0.6,0.7],"labels":false,"domain":false,"tickSize":-6,"title":null}}}}
]},
{"spacing":13.5,"bounds":"flush",
"resolve":{"scale":{"x":"independent","y":"independent","color":"independent","fill":"independent","stroke":"independent","shape":"independent"}},
"vconcat":[
{"width":669,"height":126,
"resolve":{"axis":{"x":"independent","y":"independent"}},
"layer":[
{"data":{"name":"gband"},"mark":{"type":"rect","color":"#d5f8cd","clip":true},
 "encoding":{"x":{"field":"xl","type":"quantitative","scale":{"domain":[0,4],"nice":false,"zero":false},"axis":null},"x2":{"field":"xh"},"y":{"field":"lo","type":"quantitative","scale":{"domain":[0.5,2],"nice":false,"zero":false},"axis":null},"y2":{"field":"hi"}}},
{"data":{"name":"runc"},"mark":{"type":"rect","clip":true,"fill":{"gradient":"linear","x1":0,"y1":1,"x2":1,"y2":0,"stops":[{"offset":0,"color":"transparent"},{"offset":0.13,"color":"transparent"},{"offset":0.13,"color":"#2b2b2b"},{"offset":0.2,"color":"#2b2b2b"},{"offset":0.2,"color":"transparent"},{"offset":0.46,"color":"transparent"},{"offset":0.46,"color":"#2b2b2b"},{"offset":0.53,"color":"#2b2b2b"},{"offset":0.53,"color":"transparent"},{"offset":0.8,"color":"transparent"},{"offset":0.8,"color":"#2b2b2b"},{"offset":0.87,"color":"#2b2b2b"},{"offset":0.87,"color":"transparent"},{"offset":1,"color":"transparent"}]}},
 "encoding":{"x":{"field":"xl","type":"quantitative","scale":{"domain":[0,4],"nice":false,"zero":false},"axis":null},"x2":{"field":"xh"},"y":{"field":"lo","type":"quantitative","scale":{"domain":[0.5,2],"nice":false,"zero":false},"axis":null},"y2":{"field":"hi"}}},
{"data":{"name":"axd"},"mark":{"type":"rule","color":"black","strokeWidth":2},
 "encoding":{"y":{"datum":1,"type":"quantitative","scale":{"domain":[0.5,2],"nice":false,"zero":false},"axis":null}}},
{"data":{"name":"mid"},"mark":{"type":"rule","strokeWidth":2.2,"clip":true},
 "encoding":{"x":{"field":"xl","type":"quantitative","scale":{"domain":[0,4],"nice":false,"zero":false},"axis":null},"x2":{"field":"xh"},"y":{"field":"r","type":"quantitative","scale":{"domain":[0.5,2],"nice":false,"zero":false},"axis":null},"stroke":{"field":"s","type":"nominal","scale":{"domain":["S221","MG5","S2211","FxFx","Data"],"range":["#3fa12b","#ff6b1a","#2b7cf7","#7b4a1f","#000000"]},"legend":null}}},
{"data":{"name":"mid"},"mark":{"type":"rule","strokeWidth":2.2,"clip":true},
 "encoding":{"x":{"field":"xc","type":"quantitative","scale":{"domain":[0,4],"nice":false,"zero":false},"axis":null},"y":{"field":"lo","type":"quantitative","scale":{"domain":[0.5,2],"nice":false,"zero":false},"axis":null},"y2":{"field":"hi"},"stroke":{"field":"s","type":"nominal","scale":{"domain":["S221","MG5","S2211","FxFx","Data"],"range":["#3fa12b","#ff6b1a","#2b7cf7","#7b4a1f","#000000"]},"legend":null}}},
{"data":{"name":"mid"},"mark":{"type":"point","filled":true,"fill":"white","strokeWidth":1.6,"size":42,"opacity":1,"clip":true},
 "encoding":{"x":{"field":"xc","type":"quantitative","scale":{"domain":[0,4],"nice":false,"zero":false},"axis":null},"y":{"field":"r","type":"quantitative","scale":{"domain":[0.5,2],"nice":false,"zero":false},"axis":null},"stroke":{"field":"s","type":"nominal","scale":{"domain":["S221","MG5","S2211","FxFx","Data"],"range":["#3fa12b","#ff6b1a","#2b7cf7","#7b4a1f","#000000"]},"legend":null},"shape":{"field":"s","type":"nominal","scale":{"domain":["S221","MG5","S2211","FxFx"],"range":["square","triangle-up","circle","M0,-1L0.24,-0.33L0.95,-0.31L0.38,0.12L0.59,0.81L0,0.4L-0.59,0.81L-0.38,0.12L-0.95,-0.31L-0.24,-0.33Z"]},"legend":null}}},
{"data":{"name":"boxMid"},"mark":{"type":"rule","strokeWidth":8,"strokeDash":[15,11],"strokeCap":"butt"},
 "encoding":{"x":{"field":"x","type":"quantitative","scale":{"domain":[0,4],"nice":false,"zero":false},"axis":null},"x2":{"field":"x2"},"y":{"field":"y","type":"quantitative","scale":{"domain":[0.5,2],"nice":false,"zero":false},"axis":null},"y2":{"field":"y2"},"color":{"field":"b","type":"nominal","scale":{"domain":["P","O"],"range":["#92278f","#fc9a0e"]},"legend":null}}},
{"data":{"name":"annMid"},"mark":{"type":"text","font":"Liberation Sans","fontSize":27,"angle":270,"align":"left","baseline":"alphabetic","color":"black"},
 "encoding":{"text":{"field":"t"},"x":{"field":"x","type":"quantitative","scale":{"domain":[0,4],"nice":false,"zero":false},"axis":null},"y":{"field":"y","type":"quantitative","scale":{"domain":[0.5,2],"nice":false,"zero":false},"axis":null}}},
{"data":{"name":"axd"},"mark":{"type":"point","opacity":0},
 "encoding":{"x":{"field":"a","type":"quantitative","scale":{"domain":[0,4],"nice":false,"zero":false},"axis":null},"y":{"field":"r","type":"quantitative","scale":{"domain":[0.5,2],"nice":false,"zero":false},"axis":{"orient":"left","values":[0.5,1,1.5,2],"format":"~g","ticks":false,"domain":false,"title":null,"labelPadding":5,"labelFontSize":18,"labelBaseline":{"condition":{"test":"datum.value <= 0.5","value":"alphabetic"},"value":"middle"}}}}},
{"data":{"name":"axd"},"mark":{"type":"point","opacity":0},
 "encoding":{"x":{"field":"a","type":"quantitative","scale":{"domain":[0,4],"nice":false,"zero":false},"axis":{"orient":"bottom","values":[0,0.5,1,1.5,2,2.5,3,3.5,4],"labels":false,"tickSize":-18,"title":null}},"y":{"field":"r","type":"quantitative","scale":{"domain":[0.5,2],"nice":false,"zero":false},"axis":{"orient":"left","values":[0.5,1,1.5,2],"labels":false,"tickSize":-12,"title":null}}}},
{"data":{"name":"axd"},"mark":{"type":"point","opacity":0},
 "encoding":{"x":{"field":"a","type":"quantitative","scale":{"domain":[0,4],"nice":false,"zero":false},"axis":{"orient":"bottom","values":[0.1,0.2,0.3,0.4,0.6,0.7,0.8,0.9,1.1,1.2,1.3,1.4,1.6,1.7,1.8,1.9,2.1,2.2,2.3,2.4,2.6,2.7,2.8,2.9,3.1,3.2,3.3,3.4,3.6,3.7,3.8,3.9],"labels":false,"domain":false,"tickSize":-9,"title":null}},"y":{"field":"r","type":"quantitative","scale":{"domain":[0.5,2],"nice":false,"zero":false},"axis":{"orient":"left","values":[0.6,0.7,0.8,0.9,1.1,1.2,1.3,1.4,1.6,1.7,1.8,1.9],"labels":false,"domain":false,"tickSize":-6,"title":null}}}},
{"data":{"name":"axd"},"mark":{"type":"point","opacity":0},
 "encoding":{"x":{"field":"a","type":"quantitative","scale":{"domain":[0,4],"nice":false,"zero":false},"axis":{"orient":"top","values":[0,0.5,1,1.5,2,2.5,3,3.5,4],"labels":false,"tickSize":-18,"title":null}},"y":{"field":"r","type":"quantitative","scale":{"domain":[0.5,2],"nice":false,"zero":false},"axis":{"orient":"right","values":[0.5,1,1.5,2],"labels":false,"tickSize":-12,"title":null}}}},
{"data":{"name":"axd"},"mark":{"type":"point","opacity":0},
 "encoding":{"x":{"field":"a","type":"quantitative","scale":{"domain":[0,4],"nice":false,"zero":false},"axis":{"orient":"top","values":[0.1,0.2,0.3,0.4,0.6,0.7,0.8,0.9,1.1,1.2,1.3,1.4,1.6,1.7,1.8,1.9,2.1,2.2,2.3,2.4,2.6,2.7,2.8,2.9,3.1,3.2,3.3,3.4,3.6,3.7,3.8,3.9],"labels":false,"domain":false,"tickSize":-9,"title":null}},"y":{"field":"r","type":"quantitative","scale":{"domain":[0.5,2],"nice":false,"zero":false},"axis":{"orient":"right","values":[0.6,0.7,0.8,0.9,1.1,1.2,1.3,1.4,1.6,1.7,1.8,1.9],"labels":false,"domain":false,"tickSize":-6,"title":null}}}}
]},
{"width":669,"height":123,
"resolve":{"axis":{"x":"independent","y":"independent"}},
"layer":[
{"data":{"name":"bband"},"mark":{"type":"rect","fillOpacity":0.4,"clip":true},
 "encoding":{"x":{"field":"xl","type":"quantitative","scale":{"domain":[0,4],"nice":false,"zero":false},"axis":null},"x2":{"field":"xh"},"y":{"field":"lo","type":"quantitative","scale":{"domain":[0.5,2],"nice":false,"zero":false},"axis":null},"y2":{"field":"hi"},"fill":{"field":"s","type":"nominal","scale":{"domain":["S2211","FxFx"],"range":["#6aa6f8","#a7875c"]},"legend":null}}},
{"data":{"name":"runc"},"mark":{"type":"rect","clip":true,"fill":{"gradient":"linear","x1":0,"y1":1,"x2":1,"y2":0,"stops":[{"offset":0,"color":"transparent"},{"offset":0.13,"color":"transparent"},{"offset":0.13,"color":"#2b2b2b"},{"offset":0.2,"color":"#2b2b2b"},{"offset":0.2,"color":"transparent"},{"offset":0.46,"color":"transparent"},{"offset":0.46,"color":"#2b2b2b"},{"offset":0.53,"color":"#2b2b2b"},{"offset":0.53,"color":"transparent"},{"offset":0.8,"color":"transparent"},{"offset":0.8,"color":"#2b2b2b"},{"offset":0.87,"color":"#2b2b2b"},{"offset":0.87,"color":"transparent"},{"offset":1,"color":"transparent"}]}},
 "encoding":{"x":{"field":"xl","type":"quantitative","scale":{"domain":[0,4],"nice":false,"zero":false},"axis":null},"x2":{"field":"xh"},"y":{"field":"lo","type":"quantitative","scale":{"domain":[0.5,2],"nice":false,"zero":false},"axis":null},"y2":{"field":"hi"}}},
{"data":{"name":"axd"},"mark":{"type":"rule","color":"black","strokeWidth":2},
 "encoding":{"y":{"datum":1,"type":"quantitative","scale":{"domain":[0.5,2],"nice":false,"zero":false},"axis":null}}},
{"data":{"name":"bot"},"mark":{"type":"rule","strokeWidth":2.2,"clip":true},
 "encoding":{"x":{"field":"xl","type":"quantitative","scale":{"domain":[0,4],"nice":false,"zero":false},"axis":null},"x2":{"field":"xh"},"y":{"field":"r","type":"quantitative","scale":{"domain":[0.5,2],"nice":false,"zero":false},"axis":null},"stroke":{"field":"s","type":"nominal","scale":{"domain":["S221","MG5","S2211","FxFx","Data"],"range":["#3fa12b","#ff6b1a","#2b7cf7","#7b4a1f","#000000"]},"legend":null}}},
{"data":{"name":"bot"},"mark":{"type":"rule","strokeWidth":2.2,"clip":true},
 "encoding":{"x":{"field":"xc","type":"quantitative","scale":{"domain":[0,4],"nice":false,"zero":false},"axis":null},"y":{"field":"lo","type":"quantitative","scale":{"domain":[0.5,2],"nice":false,"zero":false},"axis":null},"y2":{"field":"hi"},"stroke":{"field":"s","type":"nominal","scale":{"domain":["S221","MG5","S2211","FxFx","Data"],"range":["#3fa12b","#ff6b1a","#2b7cf7","#7b4a1f","#000000"]},"legend":null}}},
{"data":{"name":"bot"},"mark":{"type":"point","filled":true,"fill":"white","strokeWidth":1.6,"size":42,"opacity":1,"clip":true},
 "encoding":{"x":{"field":"xc","type":"quantitative","scale":{"domain":[0,4],"nice":false,"zero":false},"axis":null},"y":{"field":"r","type":"quantitative","scale":{"domain":[0.5,2],"nice":false,"zero":false},"axis":null},"stroke":{"field":"s","type":"nominal","scale":{"domain":["S221","MG5","S2211","FxFx","Data"],"range":["#3fa12b","#ff6b1a","#2b7cf7","#7b4a1f","#000000"]},"legend":null},"shape":{"field":"s","type":"nominal","scale":{"domain":["S221","MG5","S2211","FxFx"],"range":["square","triangle-up","circle","M0,-1L0.24,-0.33L0.95,-0.31L0.38,0.12L0.59,0.81L0,0.4L-0.59,0.81L-0.38,0.12L-0.95,-0.31L-0.24,-0.33Z"]},"legend":null}}},
{"data":{"name":"boxBot"},"mark":{"type":"rule","strokeWidth":8,"strokeDash":[15,11],"strokeCap":"butt"},
 "encoding":{"x":{"field":"x","type":"quantitative","scale":{"domain":[0,4],"nice":false,"zero":false},"axis":null},"x2":{"field":"x2"},"y":{"field":"y","type":"quantitative","scale":{"domain":[0.5,2],"nice":false,"zero":false},"axis":null},"y2":{"field":"y2"},"color":{"field":"b","type":"nominal","scale":{"domain":["P","O"],"range":["#92278f","#fc9a0e"]},"legend":null}}},
{"data":{"name":"annBot"},"transform":[{"filter":"datum.k == 'big'"}],"mark":{"type":"text","font":"Liberation Sans","fontSize":22,"align":"right","baseline":"alphabetic","color":"black"},
 "encoding":{"text":{"field":"t"},"x":{"field":"x","type":"quantitative","scale":{"domain":[0,4],"nice":false,"zero":false},"axis":null},"y":{"field":"y","type":"quantitative","scale":{"domain":[0.5,2],"nice":false,"zero":false},"axis":null}}},
{"data":{"name":"annBot"},"transform":[{"filter":"datum.k == 'sm'"}],"mark":{"type":"text","font":"Liberation Sans","fontSize":12,"align":"left","baseline":"alphabetic","color":"black"},
 "encoding":{"text":{"field":"t"},"x":{"field":"x","type":"quantitative","scale":{"domain":[0,4],"nice":false,"zero":false},"axis":null},"y":{"field":"y","type":"quantitative","scale":{"domain":[0.5,2],"nice":false,"zero":false},"axis":null}}},
{"data":{"name":"axd"},"mark":{"type":"point","opacity":0},
 "encoding":{"x":{"field":"a","type":"quantitative","scale":{"domain":[0,4],"nice":false,"zero":false},"axis":{"orient":"bottom","values":[0,0.5,1,1.5,2,2.5,3,3.5,4],"format":"~g","ticks":false,"domain":false,"labelPadding":11,"labelFlush":false,"labelAlign":{"condition":{"test":"datum.value >= 4","value":"right"},"value":"center"},"title":null}},"y":{"field":"r","type":"quantitative","scale":{"domain":[0.5,2],"nice":false,"zero":false},"axis":{"orient":"left","values":[0.5,1,1.5,2],"format":"~g","ticks":false,"domain":false,"title":null,"labelPadding":5,"labelFontSize":18,"labelOffset":{"condition":{"test":"datum.value >= 2","value":2},"value":0}}}}},
{"data":{"name":"axd"},"mark":{"type":"point","opacity":0},
 "encoding":{"x":{"field":"a","type":"quantitative","scale":{"domain":[0,4],"nice":false,"zero":false},"axis":{"orient":"bottom","values":[0,0.5,1,1.5,2,2.5,3,3.5,4],"labels":false,"tickSize":-18,"title":null}},"y":{"field":"r","type":"quantitative","scale":{"domain":[0.5,2],"nice":false,"zero":false},"axis":{"orient":"left","values":[0.5,1,1.5,2],"labels":false,"tickSize":-12,"title":null}}}},
{"data":{"name":"axd"},"mark":{"type":"point","opacity":0},
 "encoding":{"x":{"field":"a","type":"quantitative","scale":{"domain":[0,4],"nice":false,"zero":false},"axis":{"orient":"bottom","values":[0.1,0.2,0.3,0.4,0.6,0.7,0.8,0.9,1.1,1.2,1.3,1.4,1.6,1.7,1.8,1.9,2.1,2.2,2.3,2.4,2.6,2.7,2.8,2.9,3.1,3.2,3.3,3.4,3.6,3.7,3.8,3.9],"labels":false,"domain":false,"tickSize":-9,"title":null}},"y":{"field":"r","type":"quantitative","scale":{"domain":[0.5,2],"nice":false,"zero":false},"axis":{"orient":"left","values":[0.6,0.7,0.8,0.9,1.1,1.2,1.3,1.4,1.6,1.7,1.8,1.9],"labels":false,"domain":false,"tickSize":-6,"title":null}}}},
{"data":{"name":"axd"},"mark":{"type":"point","opacity":0},
 "encoding":{"x":{"field":"a","type":"quantitative","scale":{"domain":[0,4],"nice":false,"zero":false},"axis":{"orient":"top","values":[0,0.5,1,1.5,2,2.5,3,3.5,4],"labels":false,"tickSize":-18,"title":null}},"y":{"field":"r","type":"quantitative","scale":{"domain":[0.5,2],"nice":false,"zero":false},"axis":{"orient":"right","values":[0.5,1,1.5,2],"labels":false,"tickSize":-12,"title":null}}}},
{"data":{"name":"axd"},"mark":{"type":"point","opacity":0},
 "encoding":{"x":{"field":"a","type":"quantitative","scale":{"domain":[0,4],"nice":false,"zero":false},"axis":{"orient":"top","values":[0.1,0.2,0.3,0.4,0.6,0.7,0.8,0.9,1.1,1.2,1.3,1.4,1.6,1.7,1.8,1.9,2.1,2.2,2.3,2.4,2.6,2.7,2.8,2.9,3.1,3.2,3.3,3.4,3.6,3.7,3.8,3.9],"labels":false,"domain":false,"tickSize":-9,"title":null}},"y":{"field":"r","type":"quantitative","scale":{"domain":[0.5,2],"nice":false,"zero":false},"axis":{"orient":"right","values":[0.6,0.7,0.8,0.9,1.1,1.2,1.3,1.4,1.6,1.7,1.8,1.9],"labels":false,"domain":false,"tickSize":-6,"title":null}}}}
]}
]}
]
}
